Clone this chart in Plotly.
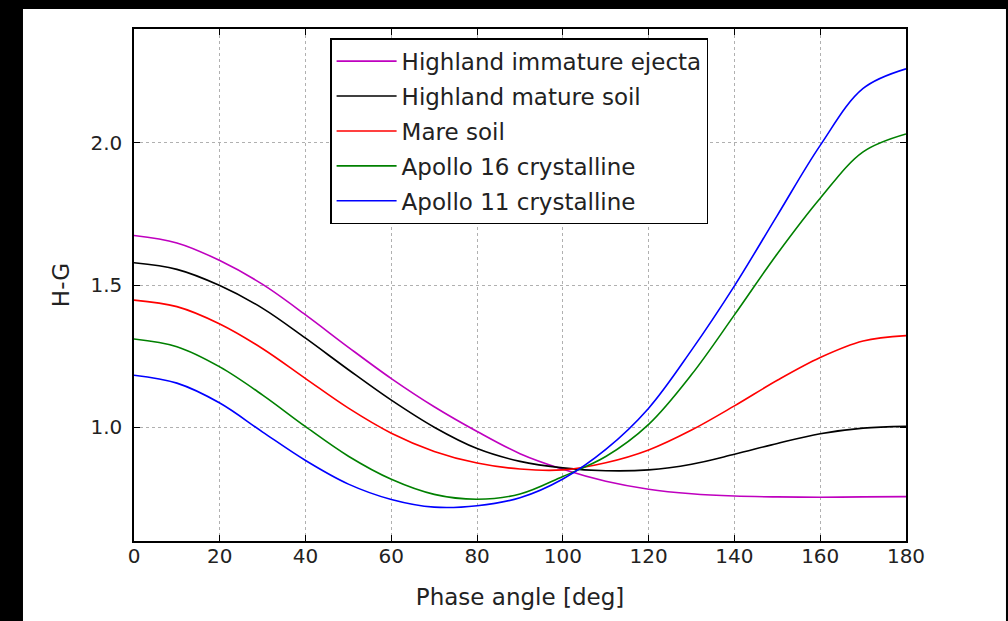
import plotly.graph_objects as go

phase = [0, 10, 20, 30, 40, 50, 60, 70, 80, 90, 100, 110, 120, 130, 140, 150, 160, 170, 180]

highland_immature = [1.674, 1.648, 1.586, 1.502, 1.395, 1.281, 1.171, 1.072, 0.985, 0.907, 0.852, 0.810, 0.782, 0.766, 0.758, 0.755, 0.754, 0.755, 0.756]
highland_mature = [1.578, 1.555, 1.498, 1.418, 1.313, 1.202, 1.095, 1.000, 0.925, 0.880, 0.857, 0.847, 0.850, 0.870, 0.905, 0.943, 0.977, 0.997, 1.003]
mare_soil = [1.447, 1.424, 1.363, 1.276, 1.171, 1.067, 0.979, 0.915, 0.874, 0.853, 0.850, 0.875, 0.920, 0.990, 1.075, 1.165, 1.245, 1.303, 1.322]
apollo16 = [1.310, 1.283, 1.212, 1.113, 1.002, 0.898, 0.817, 0.764, 0.747, 0.765, 0.827, 0.897, 1.010, 1.185, 1.395, 1.610, 1.805, 1.968, 2.031]
apollo11 = [1.183, 1.155, 1.085, 0.983, 0.883, 0.800, 0.746, 0.719, 0.724, 0.752, 0.818, 0.922, 1.067, 1.271, 1.497, 1.745, 1.991, 2.191, 2.260]

names = ["Highland immature ejecta", "Highland mature soil", "Mare soil",
         "Apollo 16 crystalline", "Apollo 11 crystalline"]
series = [highland_immature, highland_mature, mare_soil, apollo16, apollo11]
colors = ["#bf00bf", "#000000", "#ff0000", "#008000", "#0000ff"]

x_ticks = [0, 20, 40, 60, 80, 100, 120, 140, 160, 180]
y_ticks = [1.0, 1.5, 2.0]
y_tick_labels = ["1.0", "1.5", "2.0"]

fig = go.Figure()
for i, (n, s, c) in enumerate(zip(names, series, colors)):
    fig.add_trace(go.Scatter(x=phase, y=s, mode="lines", name=n,
                             line=dict(color=c, width=1.6, shape="spline", smoothing=1.0),
                             legendgroup=str(i)))

font_family = "DejaVu Sans"
axis_common = dict(showline=True, linecolor="black", linewidth=1.5, mirror="ticks",
                   ticks="inside", ticklen=6, tickcolor="black", tickwidth=1,
                   showgrid=True, gridcolor="#b0b0b0", griddash="3px,3px", gridwidth=1,
                   zeroline=False, tickfont=dict(family=font_family, size=20, color="#222"))

fig.update_layout(
    width=1008, height=621,
    margin=dict(l=134, r=102, t=29, b=80),
    paper_bgcolor="white", plot_bgcolor="white",
    font=dict(family=font_family, size=20, color="#222"),
    xaxis=dict(range=[0, 180], tickvals=x_ticks, ticktext=[str(v) for v in x_ticks],
               title=dict(text="Phase angle [deg]", font=dict(size=23), standoff=22),
               ticklabelstandoff=-4, **axis_common),
    yaxis=dict(range=[0.6, 2.4], tickvals=y_ticks, ticktext=y_tick_labels,
               title=dict(text="H-G", font=dict(size=23), standoff=14),
               ticklabelstandoff=6, **axis_common),
    legend=dict(x=0.254, y=0.982, xanchor="left", yanchor="top",
                bgcolor="white", bordercolor="black", borderwidth=1.5,
                font=dict(family=font_family, size=23, color="#222"),
                tracegroupgap=2, itemwidth=60),
    showlegend=True,
    shapes=[
        dict(type="rect", xref="paper", yref="paper", x0=-0.19, x1=-0.1438, y0=-0.2, y1=1.1,
             fillcolor="black", line=dict(width=0), layer="above"),
        dict(type="rect", xref="paper", yref="paper", x0=-0.19, x1=1.15, y0=1.0391, y1=1.1,
             fillcolor="black", line=dict(width=0), layer="above"),
        dict(type="rect", xref="paper", yref="paper", x0=1.1295, x1=1.15, y0=-0.2, y1=1.1,
             fillcolor="black", line=dict(width=0), layer="above"),
    ],
)

fig.write_html("out.html", config={"displayModeBar": False},
               post_script="document.body.style.margin='0px';")
